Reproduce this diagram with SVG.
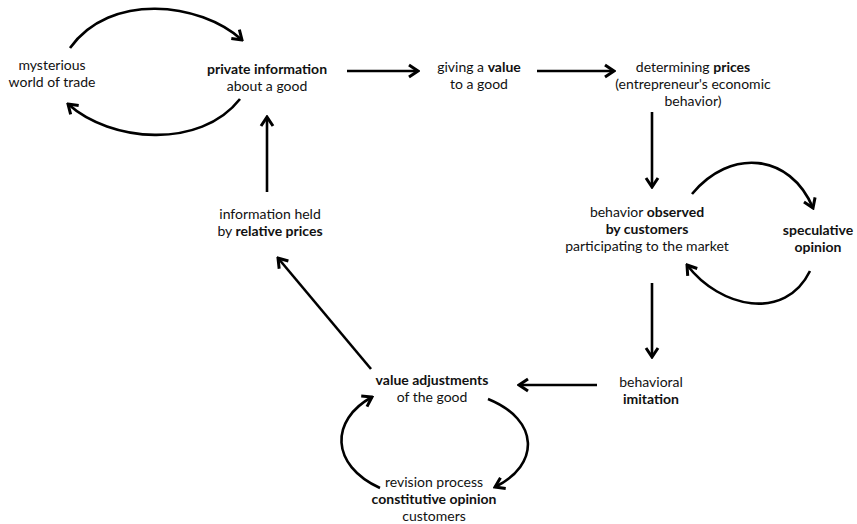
<svg xmlns="http://www.w3.org/2000/svg" width="857" height="524" viewBox="0 0 857 524">
<defs>
<style>
text{font-family:Lato,"Open Sans",sans-serif;font-size:14px;fill:#111;text-anchor:middle}
.b{font-weight:bold}
.c{fill:none;stroke:#000;stroke-width:2.6;stroke-linecap:butt}
</style>
<marker id="ah" markerUnits="userSpaceOnUse" viewBox="-12 -8 14 16" markerWidth="14" markerHeight="16" refX="0" refY="0" orient="auto">
<path d="M-9,-6 L0,0 L-9,6" fill="none" stroke="#000" stroke-width="3" stroke-linejoin="miter"/>
</marker>
</defs>
<rect width="857" height="524" fill="#fff"/>
<g id="connectors">
<path class="c" d="M70,48 C110,-8 200,2 242,40" marker-end="url(#ah)"/>
<path class="c" d="M240,99 C200,150 110,142 68,104" marker-end="url(#ah)"/>
<path class="c" d="M347,71 L418,71" marker-end="url(#ah)"/>
<path class="c" d="M537,71 L614,71" marker-end="url(#ah)"/>
<path class="c" d="M652,112 L652,187" marker-end="url(#ah)"/>
<path class="c" d="M692,194 C730,148 790,153 813,208" marker-end="url(#ah)"/>
<path class="c" d="M810,271 C785,322 720,308 687,265" marker-end="url(#ah)"/>
<path class="c" d="M652,283 L652,357" marker-end="url(#ah)"/>
<path class="c" d="M597,385 L519,385" marker-end="url(#ah)"/>
<path class="c" d="M371,369 L278,258" marker-end="url(#ah)"/>
<path class="c" d="M267,192 L267,117" marker-end="url(#ah)"/>
<path class="c" d="M380,488 C330,465 330,420 372,397" marker-end="url(#ah)"/>
<path class="c" d="M488,399 C540,420 540,465 495,487" marker-end="url(#ah)"/>
</g>
<g id="mysterious"><text x="52" y="70">mysterious</text><text x="52" y="87">world of trade</text></g>
<g id="private"><text x="267" y="74" class="b">private information</text><text x="267" y="91">about a good</text></g>
<g id="giving"><text x="479" y="72">giving a <tspan class="b">value</tspan></text><text x="479" y="89">to a good</text></g>
<g id="determining"><text x="693" y="72">determining <tspan class="b">prices</tspan></text><text x="693" y="89">(entrepreneur's economic</text><text x="693" y="106">behavior)</text></g>
<g id="observed"><text x="647" y="217">behavior <tspan class="b">observed</tspan></text><text x="647" y="234" class="b">by customers</text><text x="647" y="251">participating to the market</text></g>
<g id="speculative"><text x="818" y="235" class="b">speculative</text><text x="818" y="252" class="b">opinion</text></g>
<g id="imitation"><text x="651" y="387">behavioral</text><text x="651" y="404" class="b">imitation</text></g>
<g id="adjustments"><text x="432" y="385" class="b">value adjustments</text><text x="432" y="402">of the good</text></g>
<g id="relative"><text x="270" y="219">information held</text><text x="270" y="236">by <tspan class="b">relative prices</tspan></text></g>
<g id="revision"><text x="434" y="487">revision process</text><text x="434" y="504" class="b">constitutive opinion</text><text x="434" y="521">customers</text></g>
</svg>
